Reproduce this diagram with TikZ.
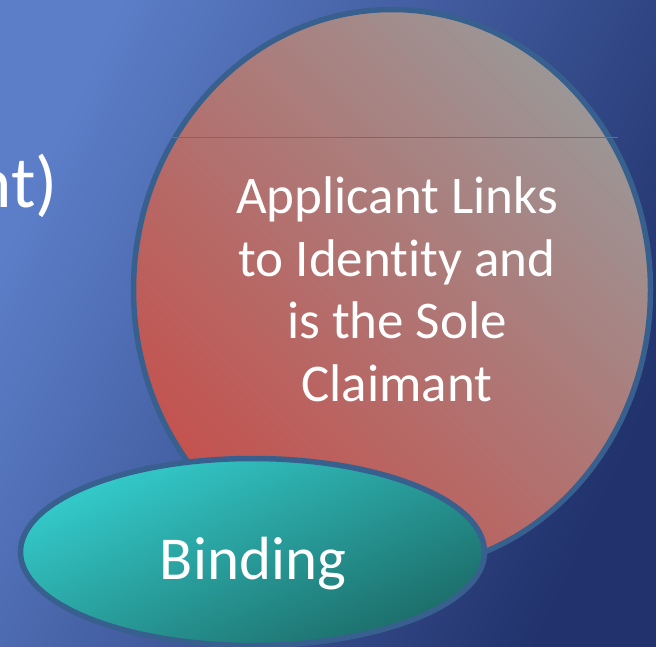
\documentclass[tikz,border=0pt]{standalone}
\usepackage{fontspec}
\setmainfont{Carlito}[Ligatures=CommonOff]
\definecolor{bglight}{RGB}{92,126,200}
\definecolor{bgdark}{RGB}{33,50,108}
\definecolor{ringblue}{RGB}{56,96,142}
\definecolor{bigred}{RGB}{196,82,78}
\definecolor{biggray}{RGB}{156,150,150}
\definecolor{tealtop}{RGB}{52,204,204}
\definecolor{tealbot}{RGB}{28,108,104}
\definecolor{thinline}{RGB}{100,108,158}
\begin{document}
\begin{tikzpicture}[x=1pt,y=-1pt,
  ring/.style={draw=ringblue, line width=5.5pt},
  lbl/.style={text=white, inner sep=0pt, outer sep=0pt}]
\useasboundingbox (0,0) rectangle (656,646);
\clip (0,0) rectangle (656,646);
% background
\fill[top color=bglight, bottom color=bgdark, shading angle=65] (0,0) rectangle (656,646);
% large ellipse
\path[ring, top color=biggray, bottom color=bigred, shading angle=-45]
  (392,290) ellipse [x radius=258.5, y radius=280.5];
\coordinate (la) at (168,137);
\coordinate (lb) at (618,137);
\draw[thinline, line width=1pt] (la) -- (lb);
\node[lbl, align=center, anchor=base, font=\fontsize{53}{62.5}\selectfont] (claim) at (397,401)
  {Applicant Links\\to Ident\kern0pt ity and\\is the Sole\\Claimant};
% binding ellipse
\path[ring, top color=tealtop, bottom color=tealbot, shading angle=25]
  (252.5,552) ellipse [x radius=232, y radius=93.5];
\node[lbl, anchor=base, font=\fontsize{61}{70}\selectfont] (bind) at (253,579) {Binding};
% cut-off text at left
\node[lbl, anchor=base east, font=\fontsize{73}{85}\selectfont] (cut) at (58,207) {nt)};
\end{tikzpicture}
\end{document}
